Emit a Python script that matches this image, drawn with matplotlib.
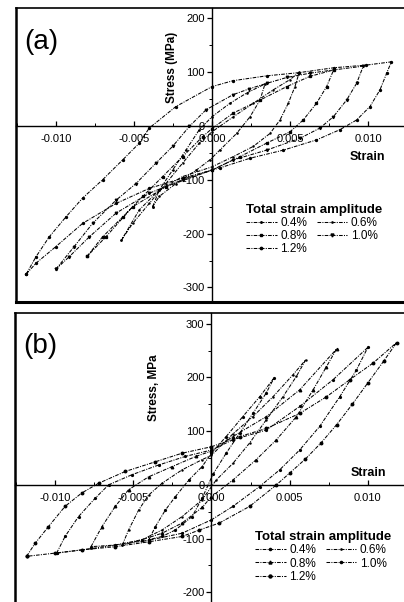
import matplotlib
matplotlib.use("Agg")
import matplotlib.pyplot as plt
from matplotlib.lines import Line2D
from matplotlib.ticker import MultipleLocator, FormatStrFormatter

plt.rcParams['font.family'] = ['Liberation Sans', 'DejaVu Sans']
plt.rcParams['axes.unicode_minus'] = False

amplitudes = ['0.4%', '0.6%', '0.8%', '1.0%', '1.2%']

# (a) 迟滞回线：应变 / 应力(MPa)
a04_strain = [-0.0038, -0.00338, -0.00252, -0.00167, -0.00081, 0.0, 0.00115, 0.00222, 0.0034,
              0.00308, 0.00244, 0.00158, 0.0005, -0.00013, -0.001, -0.00231, -0.00338, -0.0038]
a04_stress = [-150, -119, -82, -45, -7, 17, 42, 61, 78,
              48, 17, -14, -45, -63, -82, -107, -131, -150]

a06_strain = [-0.0058, -0.00508, -0.00402, -0.00295, -0.00188, -0.00081, 0.0, 0.00137, 0.00265, 0.00393, 0.005, 0.0056,
              0.00532, 0.00489, 0.00436, 0.00372, 0.00265, 0.00137, 0.0, -0.00188, -0.00338, -0.00466, -0.0058]
a06_stress = [-212, -181, -144, -107, -69, -32, -11, 17, 42, 67, 86, 100,
              73, 42, 11, -14, -38, -57, -76, -94, -119, -156, -212]

a08_strain = [-0.008, -0.00701, -0.00572, -0.00444, -0.00316, -0.00188, -0.0006, 0.0, 0.00137, 0.00308, 0.00479, 0.00628, 0.0078,
              0.00735, 0.0067, 0.00585, 0.005, 0.0035, 0.0018, 0.0, -0.00295, -0.00508, -0.0068, -0.008]
a08_stress = [-242, -206, -169, -131, -94, -57, -20, -5, 24, 48, 73, 92, 104,
              73, 42, 11, -11, -32, -57, -82, -113, -150, -206, -242]

a10_strain = [-0.01, -0.00883, -0.00765, -0.00615, -0.00487, -0.00359, -0.00252, -0.00145, -0.00038, 0.00135, 0.0024,
              0.0035, 0.0048, 0.0063, 0.0078, 0.0097,
              0.00927, 0.00863, 0.00778, 0.00692, 0.00564, 0.0035, 0.00137, 0.0, -0.00188, -0.00402, -0.00615,
              -0.00786, -0.00915, -0.01]
a10_stress = [-266, -224, -181, -138, -107, -69, -38, -1, 30, 58, 69,
              79, 90, 98, 104, 111,
              79, 48, 17, -4, -23, -45, -63, -82, -100, -125, -162,
              -206, -243, -266]

a12_strain = [-0.0119, -0.01128, -0.01043, -0.00936, -0.00829, -0.00701, -0.00572, -0.00466, -0.00402, -0.00231, 0.0,
              0.00135, 0.0035, 0.0056, 0.0078, 0.0099, 0.0115,
              0.0112, 0.01077, 0.01013, 0.00927, 0.0082, 0.0067, 0.00457, 0.00244, 0.0005, -0.00188, -0.00402,
              -0.00615, -0.00829, -0.01, -0.01128, -0.0119]
a12_stress = [-275, -243, -206, -169, -134, -100, -63, -32, -4, 36, 73,
              84, 93, 99, 108, 113, 119,
              98, 67, 36, 11, -7, -26, -45, -60, -78, -97, -116,
              -144, -181, -224, -255, -275]

# (b) 迟滞回线
b04_strain = [-0.004, -0.00359, -0.00295, -0.00231, -0.00145, -0.0006, 0.0, 0.00094, 0.002, 0.00308, 0.004,
              0.0035, 0.00265, 0.0018, 0.00094, 0.0001, -0.0006, -0.00124, -0.00231, -0.00316, -0.004]
b04_stress = [-102, -78, -47, -22, 9, 34, 59, 90, 127, 164, 199,
              171, 133, 96, 59, 20, -25, -59, -84, -96, -102]

b06_strain = [-0.0057, -0.0053, -0.00466, -0.00402, -0.00316, -0.00188, -0.0006, 0.0, 0.00137, 0.00265, 0.00393, 0.00521,
              0.00603,
              0.00543, 0.00457, 0.0035, 0.00244, 0.00137, 0.0003, -0.0006, -0.00188, -0.00316, -0.00444, -0.0057]
b06_stress = [-112, -84, -47, -19, 3, 28, 47, 55, 95, 127, 164, 205,
              233,
              202, 164, 121, 78, 40, 9, -28, -59, -84, -102, -112]

b08_strain = [-0.0077, -0.00701, -0.00615, -0.0053, -0.00402, -0.00252, -0.001, 0.0, 0.00137, 0.0035, 0.00564, 0.008,
              0.00735, 0.0065, 0.00543, 0.00415, 0.00286, 0.00137, 0.0, -0.0006, -0.00188, -0.00316, -0.00444,
              -0.00615, -0.0077]
b08_stress = [-115, -78, -40, -9, 15, 34, 53, 63, 90, 127, 177, 253,
              220, 177, 127, 84, 47, 9, -22, -42, -71, -90, -102,
              -112, -115]

b10_strain = [-0.0099, -0.00936, -0.0085, -0.00744, -0.00658, -0.00508, -0.00338, -0.00167, 0.0, 0.00137, 0.0035,
              0.00564, 0.00778, 0.01,
              0.00927, 0.0082, 0.00692, 0.00564, 0.00436, 0.00308, 0.00137, 0.0, -0.00188, -0.004, -0.00615,
              -0.0083, -0.0099]
b10_stress = [-127, -96, -59, -25, 0, 19, 37, 53, 65, 84, 102,
              146, 196, 256,
              214, 164, 109, 65, 28, -3, -40, -65, -90, -103, -112,
              -121, -127]

b12_strain = [-0.01182, -0.01128, -0.01043, -0.00936, -0.00829, -0.00722, -0.00551, -0.00359, -0.00188, 0.0, 0.0018,
              0.0035, 0.00564, 0.00735, 0.00885, 0.01034, 0.01184,
              0.011, 0.01, 0.009, 0.008, 0.007, 0.006, 0.005, 0.00415, 0.00244, 0.0005, -0.00077, -0.00188,
              -0.00402, -0.00615, -0.00829, -0.01, -0.01182]
b12_stress = [-133, -109, -78, -40, -15, 3, 25, 43, 59, 71, 90,
              105, 133, 164, 196, 227, 265,
              230, 190, 150, 112, 78, 48, 22, 0, -40, -71, -84, -96,
              -106, -115, -121, -127, -133]

a_loops = [(a04_strain, a04_stress), (a06_strain, a06_stress), (a08_strain, a08_stress),
           (a10_strain, a10_stress), (a12_strain, a12_stress)]
b_loops = [(b04_strain, b04_stress), (b06_strain, b06_stress), (b08_strain, b08_stress),
           (b10_strain, b10_stress), (b12_strain, b12_stress)]

a_markers = ['.', '.', 's', 'v', 'o']
a_msizes = [1.8, 1.5, 1.4, 1.8, 1.4]
b_markers = ['o', '.', '^', 'o', 'o']
b_msizes = [1.3, 1.5, 1.8, 1.3, 1.8]


def draw_panel(ax, loops, markers, msizes, yticks, ylim, letter, ylabel, strain_pos, ylabel_pos, leg_anchor,
               bottom_border):
    handles = []
    for (x, y), m, ms, lab in zip(loops, markers, msizes, amplitudes):
        h, = ax.plot(x, y, color='black', lw=0.75, ls=(0, (3.5, 1.2, 1, 1.2)),
                     marker=m, ms=ms, mec='black', mfc='black', label=lab)
        handles.append(h)

    ax.set_xlim(-0.01256, 0.01231)
    ax.set_ylim(*ylim)

    # 坐标轴穿过原点
    ax.spines['left'].set_position(('data', 0))
    ax.spines['bottom'].set_position(('data', 0))
    ax.spines['left'].set_linewidth(1.0)
    ax.spines['bottom'].set_linewidth(1.0)
    ax.spines['top'].set_visible(False)
    ax.spines['right'].set_visible(False)

    ax.set_xticks([-0.010, -0.005, 0.0, 0.005, 0.010])
    ax.xaxis.set_minor_locator(MultipleLocator(0.0025))
    ax.xaxis.set_major_formatter(FormatStrFormatter('%.3f'))
    ax.set_yticks(yticks)
    ax.yaxis.set_minor_locator(MultipleLocator(50))
    ax.yaxis.set_major_formatter(FormatStrFormatter('%d'))
    ax.tick_params(axis='x', which='both', direction='in', labelsize=8, pad=6)
    ax.tick_params(axis='x', which='major', length=3.5, width=0.9)
    ax.tick_params(axis='x', which='minor', length=2, width=0.7)
    ax.tick_params(axis='y', which='both', direction='out', labelsize=8, pad=1.5)
    ax.tick_params(axis='y', which='major', length=3.5, width=0.9)
    ax.tick_params(axis='y', which='minor', length=2, width=0.7)

    # 外框
    ax.add_line(Line2D([0, 0], [0, 1], transform=ax.transAxes, color='black', lw=1.8, clip_on=False))
    ax.add_line(Line2D([0, 1], [1, 1], transform=ax.transAxes, color='black', lw=1.2, clip_on=False))
    if bottom_border:
        ax.add_line(Line2D([0, 1], [0, 0], transform=ax.transAxes, color='black', lw=2.2, clip_on=False))

    ax.text(0.064, 0.885, letter, transform=ax.transAxes, fontsize=20, ha='center', va='center')
    ax.text(ylabel_pos[0], ylabel_pos[1], ylabel, rotation=90, fontsize=8.5, fontweight='bold',
            ha='center', va='center')
    ax.text(strain_pos[0], strain_pos[1], 'Strain', fontsize=9, fontweight='bold', ha='center', va='center')

    order = [0, 2, 4, 1, 3]
    leg = ax.legend([handles[i] for i in order], [amplitudes[i] for i in order], ncol=2,
                    loc='upper left', bbox_to_anchor=leg_anchor, frameon=False,
                    title='Total strain amplitude', title_fontproperties={'weight': 'bold', 'size': 9.5},
                    alignment='left', fontsize=8.5, handlelength=2.6, handletextpad=0.3,
                    columnspacing=0.8, labelspacing=0.1, borderpad=0, borderaxespad=0, markerscale=1.2)
    return leg


fig = plt.figure(figsize=(4.04, 6.02), dpi=100)

ax_a = fig.add_axes([16 / 404, 300 / 602, 388 / 404, 294 / 602])
draw_panel(ax_a, a_loops, a_markers, a_msizes, [-300, -200, -100, 0, 100, 200], (-327, 219), '(a)',
           'Stress (MPa)', (0.00994, -58), (-0.00256, 108), (0.593, 0.335), True)

ax_b = fig.add_axes([15 / 404, 0.0, 389 / 404, 289 / 602])
draw_panel(ax_b, b_loops, b_markers, b_msizes, [-200, -100, 0, 100, 200, 300], (-218, 320), '(b)',
           'Stress, MPa', (0.01006, 22), (-0.00365, 181), (0.617, 0.245), False)

fig.savefig('out.png', dpi=100)
